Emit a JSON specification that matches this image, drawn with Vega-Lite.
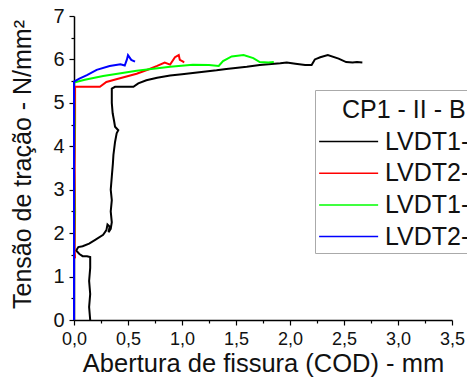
{
  "$schema": "https://vega.github.io/schema/vega-lite/v6.json",
  "width": 378,
  "height": 304,
  "autosize": "none",
  "padding": {"left": 74, "top": 16, "right": 15, "bottom": 59},
  "background": "white",
  "data": {"values": [
    {"s":"LVDT1-Face A","o":1,"x":0.15,"y":0.0},
    {"s":"LVDT1-Face A","o":2,"x":0.14,"y":0.3},
    {"s":"LVDT1-Face A","o":3,"x":0.15,"y":0.6},
    {"s":"LVDT1-Face A","o":4,"x":0.14,"y":0.9},
    {"s":"LVDT1-Face A","o":5,"x":0.15,"y":1.2},
    {"s":"LVDT1-Face A","o":6,"x":0.15,"y":1.45},
    {"s":"LVDT1-Face A","o":7,"x":0.12,"y":1.47},
    {"s":"LVDT1-Face A","o":8,"x":0.08,"y":1.47},
    {"s":"LVDT1-Face A","o":9,"x":0.05,"y":1.52},
    {"s":"LVDT1-Face A","o":10,"x":0.02,"y":1.6},
    {"s":"LVDT1-Face A","o":11,"x":0.04,"y":1.68},
    {"s":"LVDT1-Face A","o":12,"x":0.08,"y":1.7},
    {"s":"LVDT1-Face A","o":13,"x":0.14,"y":1.76},
    {"s":"LVDT1-Face A","o":14,"x":0.2,"y":1.85},
    {"s":"LVDT1-Face A","o":15,"x":0.27,"y":1.96},
    {"s":"LVDT1-Face A","o":16,"x":0.3,"y":2.07},
    {"s":"LVDT1-Face A","o":17,"x":0.31,"y":2.2},
    {"s":"LVDT1-Face A","o":18,"x":0.33,"y":2.15},
    {"s":"LVDT1-Face A","o":19,"x":0.32,"y":2.02},
    {"s":"LVDT1-Face A","o":20,"x":0.34,"y":2.1},
    {"s":"LVDT1-Face A","o":21,"x":0.35,"y":2.25},
    {"s":"LVDT1-Face A","o":22,"x":0.34,"y":2.5},
    {"s":"LVDT1-Face A","o":23,"x":0.35,"y":2.76},
    {"s":"LVDT1-Face A","o":24,"x":0.34,"y":3.0},
    {"s":"LVDT1-Face A","o":25,"x":0.35,"y":3.3},
    {"s":"LVDT1-Face A","o":26,"x":0.36,"y":3.6},
    {"s":"LVDT1-Face A","o":27,"x":0.365,"y":3.8},
    {"s":"LVDT1-Face A","o":28,"x":0.38,"y":4.1},
    {"s":"LVDT1-Face A","o":29,"x":0.395,"y":4.3},
    {"s":"LVDT1-Face A","o":30,"x":0.41,"y":4.37},
    {"s":"LVDT1-Face A","o":31,"x":0.38,"y":4.45},
    {"s":"LVDT1-Face A","o":32,"x":0.37,"y":4.6},
    {"s":"LVDT1-Face A","o":33,"x":0.358,"y":4.76},
    {"s":"LVDT1-Face A","o":34,"x":0.35,"y":5.0},
    {"s":"LVDT1-Face A","o":35,"x":0.35,"y":5.14},
    {"s":"LVDT1-Face A","o":36,"x":0.35,"y":5.33},
    {"s":"LVDT1-Face A","o":37,"x":0.38,"y":5.37},
    {"s":"LVDT1-Face A","o":38,"x":0.55,"y":5.37},
    {"s":"LVDT1-Face A","o":39,"x":0.595,"y":5.45},
    {"s":"LVDT1-Face A","o":40,"x":0.67,"y":5.52},
    {"s":"LVDT1-Face A","o":41,"x":0.77,"y":5.58},
    {"s":"LVDT1-Face A","o":42,"x":0.89,"y":5.63},
    {"s":"LVDT1-Face A","o":43,"x":1.0,"y":5.66},
    {"s":"LVDT1-Face A","o":44,"x":1.1,"y":5.69},
    {"s":"LVDT1-Face A","o":45,"x":1.32,"y":5.75},
    {"s":"LVDT1-Face A","o":46,"x":1.41,"y":5.78},
    {"s":"LVDT1-Face A","o":47,"x":1.6,"y":5.83},
    {"s":"LVDT1-Face A","o":48,"x":1.72,"y":5.87},
    {"s":"LVDT1-Face A","o":49,"x":1.91,"y":5.91},
    {"s":"LVDT1-Face A","o":50,"x":1.97,"y":5.93},
    {"s":"LVDT1-Face A","o":51,"x":2.05,"y":5.9},
    {"s":"LVDT1-Face A","o":52,"x":2.14,"y":5.87},
    {"s":"LVDT1-Face A","o":53,"x":2.2,"y":5.87},
    {"s":"LVDT1-Face A","o":54,"x":2.23,"y":6.0},
    {"s":"LVDT1-Face A","o":55,"x":2.28,"y":6.05},
    {"s":"LVDT1-Face A","o":56,"x":2.35,"y":6.1},
    {"s":"LVDT1-Face A","o":57,"x":2.45,"y":6.02},
    {"s":"LVDT1-Face A","o":58,"x":2.52,"y":5.94},
    {"s":"LVDT1-Face A","o":59,"x":2.58,"y":5.93},
    {"s":"LVDT1-Face A","o":60,"x":2.62,"y":5.94},
    {"s":"LVDT1-Face A","o":61,"x":2.67,"y":5.93},

    {"s":"LVDT2-Face A","o":1,"x":0.01,"y":1.42},
    {"s":"LVDT2-Face A","o":2,"x":0.005,"y":1.6},
    {"s":"LVDT2-Face A","o":3,"x":0.01,"y":2.5},
    {"s":"LVDT2-Face A","o":4,"x":0.005,"y":3.5},
    {"s":"LVDT2-Face A","o":5,"x":0.01,"y":4.5},
    {"s":"LVDT2-Face A","o":6,"x":0.01,"y":5.0},
    {"s":"LVDT2-Face A","o":7,"x":0.01,"y":5.37},
    {"s":"LVDT2-Face A","o":8,"x":0.1,"y":5.37},
    {"s":"LVDT2-Face A","o":9,"x":0.24,"y":5.37},
    {"s":"LVDT2-Face A","o":10,"x":0.3,"y":5.48},
    {"s":"LVDT2-Face A","o":11,"x":0.4,"y":5.55},
    {"s":"LVDT2-Face A","o":12,"x":0.58,"y":5.67},
    {"s":"LVDT2-Face A","o":13,"x":0.7,"y":5.78},
    {"s":"LVDT2-Face A","o":14,"x":0.77,"y":5.85},
    {"s":"LVDT2-Face A","o":15,"x":0.84,"y":5.93},
    {"s":"LVDT2-Face A","o":16,"x":0.89,"y":5.88},
    {"s":"LVDT2-Face A","o":17,"x":0.935,"y":6.05},
    {"s":"LVDT2-Face A","o":18,"x":0.97,"y":6.1},
    {"s":"LVDT2-Face A","o":19,"x":0.98,"y":5.99},
    {"s":"LVDT2-Face A","o":20,"x":1.01,"y":5.95},
    {"s":"LVDT2-Face A","o":21,"x":1.02,"y":5.93},

    {"s":"LVDT1-Face B","o":1,"x":0.0,"y":1.55},
    {"s":"LVDT1-Face B","o":2,"x":0.005,"y":2.5},
    {"s":"LVDT1-Face B","o":3,"x":0.0,"y":3.5},
    {"s":"LVDT1-Face B","o":4,"x":0.005,"y":4.5},
    {"s":"LVDT1-Face B","o":5,"x":0.0,"y":5.47},
    {"s":"LVDT1-Face B","o":6,"x":0.1,"y":5.53},
    {"s":"LVDT1-Face B","o":7,"x":0.27,"y":5.62},
    {"s":"LVDT1-Face B","o":8,"x":0.58,"y":5.74},
    {"s":"LVDT1-Face B","o":9,"x":0.89,"y":5.83},
    {"s":"LVDT1-Face B","o":10,"x":1.1,"y":5.88},
    {"s":"LVDT1-Face B","o":11,"x":1.25,"y":5.87},
    {"s":"LVDT1-Face B","o":12,"x":1.34,"y":5.85},
    {"s":"LVDT1-Face B","o":13,"x":1.38,"y":5.96},
    {"s":"LVDT1-Face B","o":14,"x":1.46,"y":6.07},
    {"s":"LVDT1-Face B","o":15,"x":1.57,"y":6.1},
    {"s":"LVDT1-Face B","o":16,"x":1.66,"y":6.03},
    {"s":"LVDT1-Face B","o":17,"x":1.72,"y":5.94},
    {"s":"LVDT1-Face B","o":18,"x":1.8,"y":5.93},
    {"s":"LVDT1-Face B","o":19,"x":1.85,"y":5.94},

    {"s":"LVDT2-Face B","o":1,"x":0.0,"y":0.0},
    {"s":"LVDT2-Face B","o":2,"x":0.0,"y":1.0},
    {"s":"LVDT2-Face B","o":3,"x":0.0,"y":2.0},
    {"s":"LVDT2-Face B","o":4,"x":0.0,"y":3.0},
    {"s":"LVDT2-Face B","o":5,"x":0.0,"y":4.0},
    {"s":"LVDT2-Face B","o":6,"x":0.0,"y":5.0},
    {"s":"LVDT2-Face B","o":7,"x":0.0,"y":5.49},
    {"s":"LVDT2-Face B","o":8,"x":0.05,"y":5.56},
    {"s":"LVDT2-Face B","o":9,"x":0.12,"y":5.64},
    {"s":"LVDT2-Face B","o":10,"x":0.21,"y":5.76},
    {"s":"LVDT2-Face B","o":11,"x":0.33,"y":5.85},
    {"s":"LVDT2-Face B","o":12,"x":0.43,"y":5.89},
    {"s":"LVDT2-Face B","o":13,"x":0.47,"y":5.86},
    {"s":"LVDT2-Face B","o":14,"x":0.49,"y":6.0},
    {"s":"LVDT2-Face B","o":15,"x":0.5,"y":6.1},
    {"s":"LVDT2-Face B","o":16,"x":0.53,"y":5.99},
    {"s":"LVDT2-Face B","o":17,"x":0.565,"y":5.95}
  ]},
  "mark": {"type": "line", "strokeWidth": 2, "clip": false},
  "encoding": {
    "x": {
      "field": "x", "type": "quantitative",
      "scale": {"domain": [0, 3.5], "nice": false, "zero": false},
      "axis": {
        "title": "Abertura de fissura (COD) - mm",
        "values": [0,0.25,0.5,0.75,1,1.25,1.5,1.75,2,2.25,2.5,2.75,3,3.25,3.5],
        "labelExpr": "(datum.value*2) % 1 ? '' : replace(format(datum.value, '.1f'), '.', ',')",
        "tickSize": {"condition": {"test": "(datum.value*2) % 1 !== 0", "value": 3}, "value": 5},
        "labelOverlap": false,
        "labelFlush": false,
        "labelPadding": 5,
        "titlePadding": 3,
        "labelFontSize": 18,
        "titleFontSize": 25.5
      }
    },
    "y": {
      "field": "y", "type": "quantitative",
      "scale": {"domain": [0, 7], "nice": false},
      "axis": {
        "title": "Tensão de tração - N/mm²",
        "values": [0,0.5,1,1.5,2,2.5,3,3.5,4,4.5,5,5.5,6,6.5,7],
        "labelExpr": "datum.value % 1 ? '' : format(datum.value, 'd')",
        "tickSize": {"condition": {"test": "datum.value % 1 !== 0", "value": 3}, "value": 5},
        "labelOverlap": false,
        "labelFlush": false,
        "labelPadding": 5,
        "titlePadding": 17,
        "titleY": 148,
        "labelFontSize": 20,
        "titleFontSize": 25
      }
    },
    "color": {
      "field": "s", "type": "nominal",
      "scale": {"domain": ["LVDT1-Face A","LVDT2-Face A","LVDT1-Face B","LVDT2-Face B"], "range": ["#000000","#ff0000","#00ff00","#0000ff"]},
      "sort": null,
      "legend": {
        "title": "CP1 - II - B1",
        "orient": "none",
        "legendX": 241,
        "legendY": 74,
        "symbolType": "M-1,0H7",
        "symbolSize": 217.6,
        "symbolStrokeWidth": 1.5,
        "symbolOffset": -4,
        "labelOffset": 46,
        "padding": 3,
        "strokeColor": "#aaaaaa",
        "fillColor": "white",
        "rowPadding": 5.7,
        "titlePadding": 11,
        "titleFontSize": 25,
        "labelFontSize": 25,
        "titleLimit": 0,
        "labelLimit": 0,
        "encode": {"title": {"update": {"dx": {"value": 24}, "dy": {"value": 5}}}}
      }
    },
    "order": {"field": "o", "type": "quantitative"}
  },
  "config": {
    "view": {"stroke": null},
    "font": "Liberation Sans",
    "axis": {
      "grid": false,
      "domainColor": "#000000",
      "domainWidth": 1.5,
      "tickColor": "#000000",
      "tickWidth": 1.2,
      "labelColor": "#111111",
      "titleColor": "#111111",
      "labelFont": "Liberation Sans",
      "titleFont": "Liberation Sans",
      "titleFontWeight": "normal"
    },
    "legend": {
      "labelFont": "Liberation Sans",
      "titleFont": "Liberation Sans",
      "titleFontWeight": "normal",
      "labelColor": "#111111",
      "titleColor": "#111111"
    }
  }
}
